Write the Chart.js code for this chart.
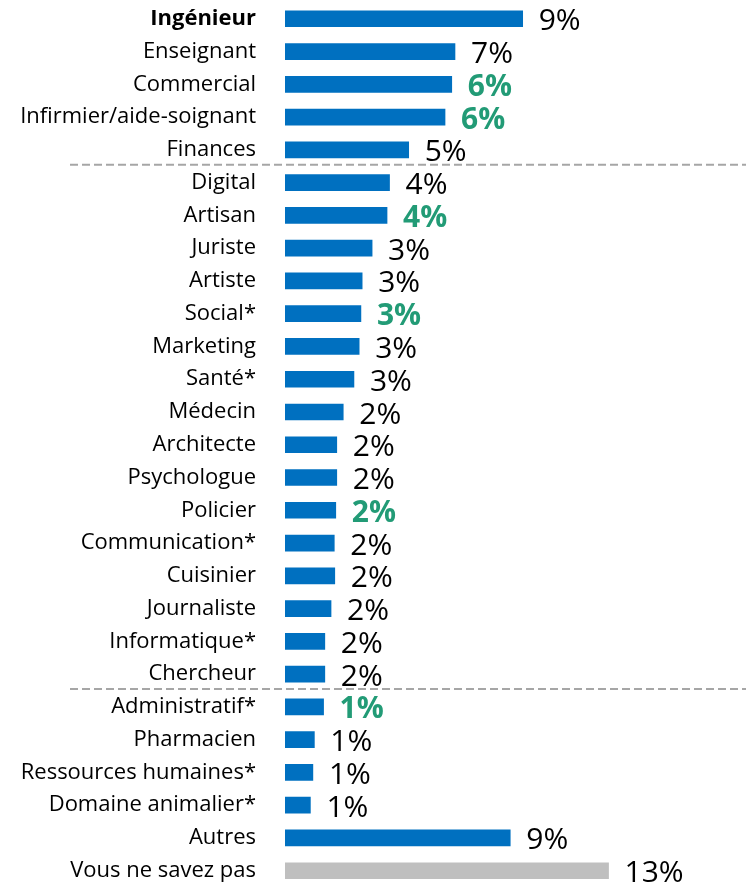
<!DOCTYPE html>
<html>
<head>
<meta charset="utf-8">
<script src="https://cdn.jsdelivr.net/npm/chart.js@4/dist/chart.umd.min.js"></script>
<style>
  html, body { margin: 0; padding: 0; background: #fff; overflow: hidden; }
  #wrap { width: 746px; height: 890px; }
</style>
</head>
<body>
<div id="wrap"><canvas id="jobChart" width="746" height="890"></canvas></div>
<script>
const categories = [
  'Ingénieur', 'Enseignant', 'Commercial', 'Infirmier/aide-soignant', 'Finances',
  'Digital', 'Artisan', 'Juriste', 'Artiste', 'Social*', 'Marketing', 'Santé*',
  'Médecin', 'Architecte', 'Psychologue', 'Policier', 'Communication*', 'Cuisinier',
  'Journaliste', 'Informatique*', 'Chercheur',
  'Administratif*', 'Pharmacien', 'Ressources humaines*', 'Domaine animalier*',
  'Autres', 'Vous ne savez pas'
];
// bar lengths as drawn (percent)
const values = [
  9.55, 6.83, 6.7, 6.43, 4.97,
  4.2, 4.1, 3.5, 3.1, 3.05, 2.98, 2.77,
  2.34, 2.08, 2.08, 2.04, 1.98, 2.0,
  1.85, 1.6, 1.6,
  1.55, 1.18, 1.12, 1.02,
  9.05, 13.0
];
const valueLabels = [
  '9%', '7%', '6%', '6%', '5%',
  '4%', '4%', '3%', '3%', '3%', '3%', '3%',
  '2%', '2%', '2%', '2%', '2%', '2%',
  '2%', '2%', '2%',
  '1%', '1%', '1%', '1%',
  '9%', '13%'
];
// labels shown in bold green
const highlighted = ['Commercial', 'Infirmier/aide-soignant', 'Artisan', 'Social*', 'Policier', 'Administratif*'];
// dashed separators drawn after these categories
const separatorsAfter = ['Finances', 'Chercheur'];

const BLUE = '#0070C0';
const GREY = '#BFBFBF';
const GREEN = '#229B76';
const FONT = "'Open Sans', 'Noto Sans', sans-serif";

const valueLabelPlugin = {
  id: 'valueLabels',
  afterDatasetsDraw(chart) {
    const ctx = chart.ctx;
    const meta = chart.getDatasetMeta(0);
    ctx.save();
    ctx.textBaseline = 'middle';
    ctx.textAlign = 'left';
    meta.data.forEach((bar, i) => {
      const hl = highlighted.includes(categories[i]);
      ctx.font = (hl ? 'bold ' : '') + '30px ' + FONT;
      ctx.fillStyle = hl ? GREEN : '#000';
      ctx.fillText(valueLabels[i], bar.x + 16, bar.y + 3);
    });
    ctx.restore();
  }
};

const separatorPlugin = {
  id: 'separators',
  afterDatasetsDraw(chart) {
    const ctx = chart.ctx;
    const y = chart.scales.y;
    ctx.save();
    ctx.strokeStyle = '#A6A6A6';
    ctx.lineWidth = 2;
    ctx.setLineDash([8, 4]);
    separatorsAfter.forEach(name => {
      const i = categories.indexOf(name);
      const py = (y.getPixelForValue(i) + y.getPixelForValue(i + 1)) / 2 - 1.5;
      ctx.beginPath();
      ctx.moveTo(70, py);
      ctx.lineTo(chart.width, py);
      ctx.stroke();
    });
    ctx.restore();
  }
};

const ctx = document.getElementById('jobChart').getContext('2d');
new Chart(ctx, {
  type: 'bar',
  data: {
    labels: categories,
    datasets: [{
      data: values,
      backgroundColor: categories.map((c, i) => i === categories.length - 1 ? GREY : BLUE),
      barThickness: 16,
      borderWidth: 0
    }]
  },
  options: {
    indexAxis: 'y',
    responsive: false,
    animation: false,
    layout: { padding: { top: 2.4, bottom: 2.9, right: 13, left: 0 } },
    plugins: { legend: { display: false }, tooltip: { enabled: false } },
    scales: {
      x: {
        display: false,
        min: 0,
        max: 18
      },
      y: {
        grid: { display: false, drawTicks: false },
        border: { display: false },
        afterFit(scale) {
          scale.width = 285;
          scale.paddingTop = 0;
          scale.paddingBottom = 0;
        },
        ticks: {
          padding: 29,
          color: '#000',
          autoSkip: false,
          font: (c) => ({
            family: FONT,
            size: 22,
            weight: c.index === 0 ? 'bold' : 'normal'
          })
        }
      }
    }
  },
  plugins: [valueLabelPlugin, separatorPlugin]
});
</script>
</body>
</html>
